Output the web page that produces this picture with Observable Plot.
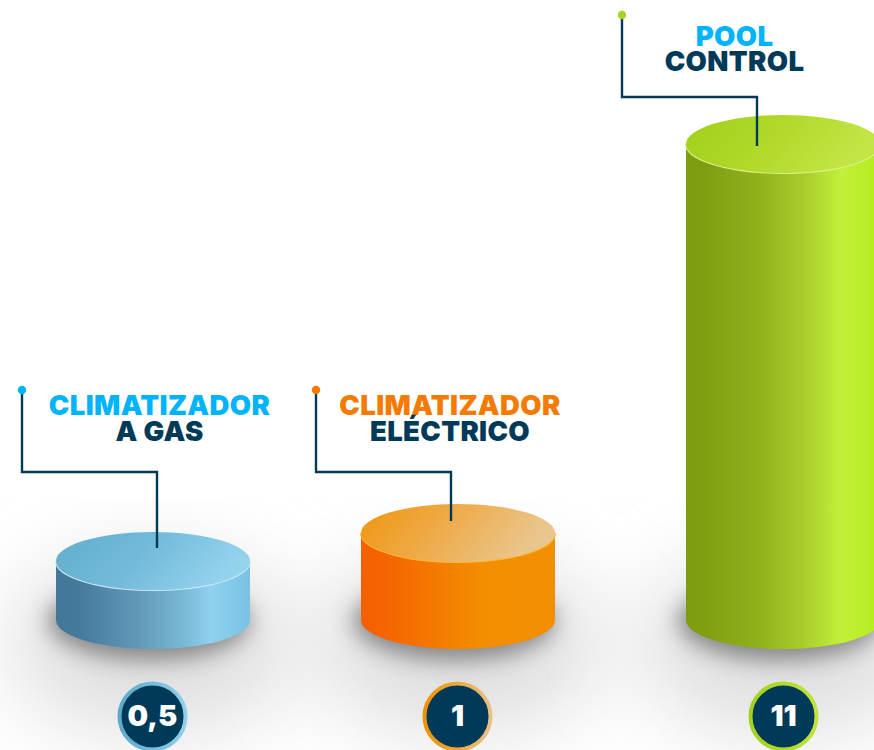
<!DOCTYPE html>
<html>
<head>
<meta charset="utf-8">
<script src="https://cdn.jsdelivr.net/npm/d3@7"></script>
<script src="https://cdn.jsdelivr.net/npm/@observablehq/plot@0.6"></script>
<style>
  html, body { margin: 0; padding: 0; background: #fff; }
  svg { display: block; }
  .title text { letter-spacing: 0.35px; }
</style>
</head>
<body>
<div id="chart"></div>
<script>
// ---- data ----
const categories = ["Climatizador a gas", "Climatizador eléctrico", "Pool Control"];
const values = [0.5, 1, 11];
const valueLabels = ["0,5", "1", "11"];
const titleFirstLines = ["CLIMATIZADOR", "CLIMATIZADOR", "POOL"];
const titleSecondLines = ["A GAS", "ELÉCTRICO", "CONTROL"];

// ---- styling and layout, kept apart from the data ----
const W = 874, H = 750;
const RX = 97, RY = 29;
const NAVY = "#003a59";
const slotCentres = [153, 458, 783];
// the picture's cylinders are not to a linear scale: heights follow this warp
const warp = d3.scaleLinear().domain([0, 0.5, 1, 11]).range([0, 59, 87, 476]);
const firstLineColors = ["#00b4fb", "#f47b00", "#00b4fb"];
const accents = ["#00b4f5", "#f47b00", "#a8d41f"];
const badgeRings = [["#5fa9cb", "#8fd0ec"], ["#f09200", "#e9c184"], ["#a3d11c", "#bfe43c"]];
const badgeShift = [-1, -1, 0];
const sideStops = [
  [[0, "#44779a"], [.12, "#457a9c"], [.42, "#6198b8"], [.66, "#78b9d6"], [.8, "#8fd1ef"], [1, "#78c2e3"]],
  [[0, "#f55f00"], [.12, "#f56400"], [.45, "#f37f00"], [.62, "#f38e00"], [1, "#f18f04"]],
  [[0, "#7d9c10"], [.12, "#80a012"], [.38, "#91b21b"], [.62, "#a9cf2c"], [.8, "#c2f03a"], [1, "#b6ec1c"]]
];
const topStops = [
  [[0, "#62aecd"], [.5, "#72bad9"], [1, "#94d3ee"]],
  [[0, "#f0950e"], [.5, "#eeac4c"], [1, "#e9c68e"]],
  [[0, "#a2cf1a"], [.5, "#b0d92a"], [1, "#c3e646"]]
];
const rimColors = ["#c6e6f4", "#ffb62e", "#dcf08a"];
const leaders = [
  {x0: -131, x1: 4, top: 390, bend: 472, end: 548},
  {x0: -142, x1: -7, top: 390, bend: 472, end: 521},
  {x0: -161, x1: -26, top: 15, bend: 97, end: 146}
];
const titlePlaces = [
  {dx: 6, y1: 405.5, y2: 431.5},
  {dx: -8.5, y1: 405.5, y2: 431.5},
  {dx: -49, y1: 36.5, y2: 62}
];

const rows = categories.map((name, i) => ({name, i, value: values[i]}));

function defs(g) {
  const d = g.append("defs");
  const grad = (id, stops, x2, y2) => {
    const lg = d.append("linearGradient").attr("id", id)
      .attr("x1", 0).attr("y1", 0).attr("x2", x2).attr("y2", y2);
    stops.forEach(([o, c]) => lg.append("stop").attr("offset", o).attr("stop-color", c));
  };
  rows.forEach(r => {
    grad("side" + r.i, sideStops[r.i], 1, 0);
    grad("top" + r.i, topStops[r.i], 1, 0.25);
    grad("ring" + r.i, badgeRings[r.i].map((c, k) => [k, c]), 1, 0);
  });
  d.append("filter").attr("id", "soft").attr("filterUnits", "userSpaceOnUse")
    .attr("x", -300).attr("y", 200).attr("width", 1500).attr("height", 900)
    .append("feGaussianBlur").attr("stdDeviation", 42);
  d.append("filter").attr("id", "contact").attr("filterUnits", "userSpaceOnUse")
    .attr("x", -100).attr("y", 450).attr("width", 1100).attr("height", 300)
    .append("feGaussianBlur").attr("stdDeviation", 11);
  d.append("clipPath").attr("id", "floor").append("rect")
    .attr("x", 0).attr("y", 499).attr("width", W).attr("height", H - 499);
}

function floorLayer(index, scales, vals) {
  const g = d3.create("svg:g");
  defs(g);
  const base = scales.y(0);
  const c = g.append("g").attr("clip-path", "url(#floor)");
  for (const i of index) {
    c.append("ellipse").attr("cx", vals.x[i]).attr("cy", base + 25)
      .attr("rx", 145).attr("ry", 88).attr("fill", "#dedede").attr("filter", "url(#soft)");
  }
  for (const i of index) {
    g.append("ellipse").attr("cx", vals.x[i] - 4).attr("cy", base + 1)
      .attr("rx", RX + 4).attr("ry", RY + 10).attr("fill", "#3c3c3c").attr("opacity", .55).attr("filter", "url(#contact)");
  }
  return g.node();
}

function cylinderLayer(index, scales, vals) {
  const g = d3.create("svg:g");
  const base = scales.y(0);
  for (const i of index) {
    const x = vals.x[i], y = vals.y[i];
    g.append("path")
      .attr("d", `M${x - RX},${y}L${x - RX},${base}A${RX},${RY} 0 0 0 ${x + RX},${base}L${x + RX},${y}Z`)
      .attr("fill", `url(#side${i})`);
    g.append("path")
      .attr("d", `M${x - RX},${y}A${RX},${RY} 0 0 0 ${x + RX},${y}`)
      .attr("fill", "none").attr("stroke", rimColors[i]).attr("stroke-width", 2);
    g.append("ellipse").attr("cx", x).attr("cy", y).attr("rx", RX).attr("ry", RY)
      .attr("fill", `url(#top${i})`);
  }
  return g.node();
}

function leaderLayer(index, scales, vals) {
  const g = d3.create("svg:g");
  for (const i of index) {
    const x = vals.x[i], l = leaders[i];
    g.append("path")
      .attr("d", `M${x + l.x0},${l.top}V${l.bend}H${x + l.x1}V${l.end}`)
      .attr("fill", "none").attr("stroke", NAVY).attr("stroke-width", 2.4);
    g.append("circle").attr("cx", x + l.x0).attr("cy", l.top).attr("r", 4.2).attr("fill", accents[i]);
  }
  return g.node();
}

const titleFont = {className: "title", fontFamily: "Inter", fontWeight: 900, fontSize: 27.5, textAnchor: "middle", lineAnchor: "middle", frameAnchor: "top"};

const marks = [
  Plot.dot(rows, {x: "i", y: "value", render: floorLayer}),
  Plot.dot(rows, {x: "i", y: "value", render: cylinderLayer}),
  Plot.dot(rows, {x: "i", y: "value", render: leaderLayer})
];

rows.forEach(r => {
  const place = titlePlaces[r.i];
  marks.push(
    Plot.text([r], {x: "i", text: () => titleFirstLines[r.i], fill: firstLineColors[r.i], dx: place.dx, dy: place.y1, ...titleFont}),
    Plot.text([r], {x: "i", text: () => titleSecondLines[r.i], fill: NAVY, dx: place.dx, dy: place.y2, ...titleFont}),
    Plot.dot([r], {x: "i", frameAnchor: "top", dx: badgeShift[r.i], dy: 716, r: 33, fill: NAVY, stroke: `url(#ring${r.i})`, strokeWidth: 4}),
    Plot.text([r], {x: "i", frameAnchor: "top", dx: badgeShift[r.i], dy: 716, text: () => valueLabels[r.i], fill: "#fff",
      fontFamily: "Inter", fontWeight: 900, fontSize: 29, lineAnchor: "middle"})
  );
});

const chart = Plot.plot({
  width: W,
  height: H,
  margin: 0,
  style: {background: "#fff"},
  x: {axis: null, transform: i => slotCentres[i], domain: [0, W], range: [0, W]},
  y: {axis: null, transform: warp, domain: [0, warp(11)], range: [620, 144]},
  marks
});
document.getElementById("chart").append(chart);
</script>
</body>
</html>
